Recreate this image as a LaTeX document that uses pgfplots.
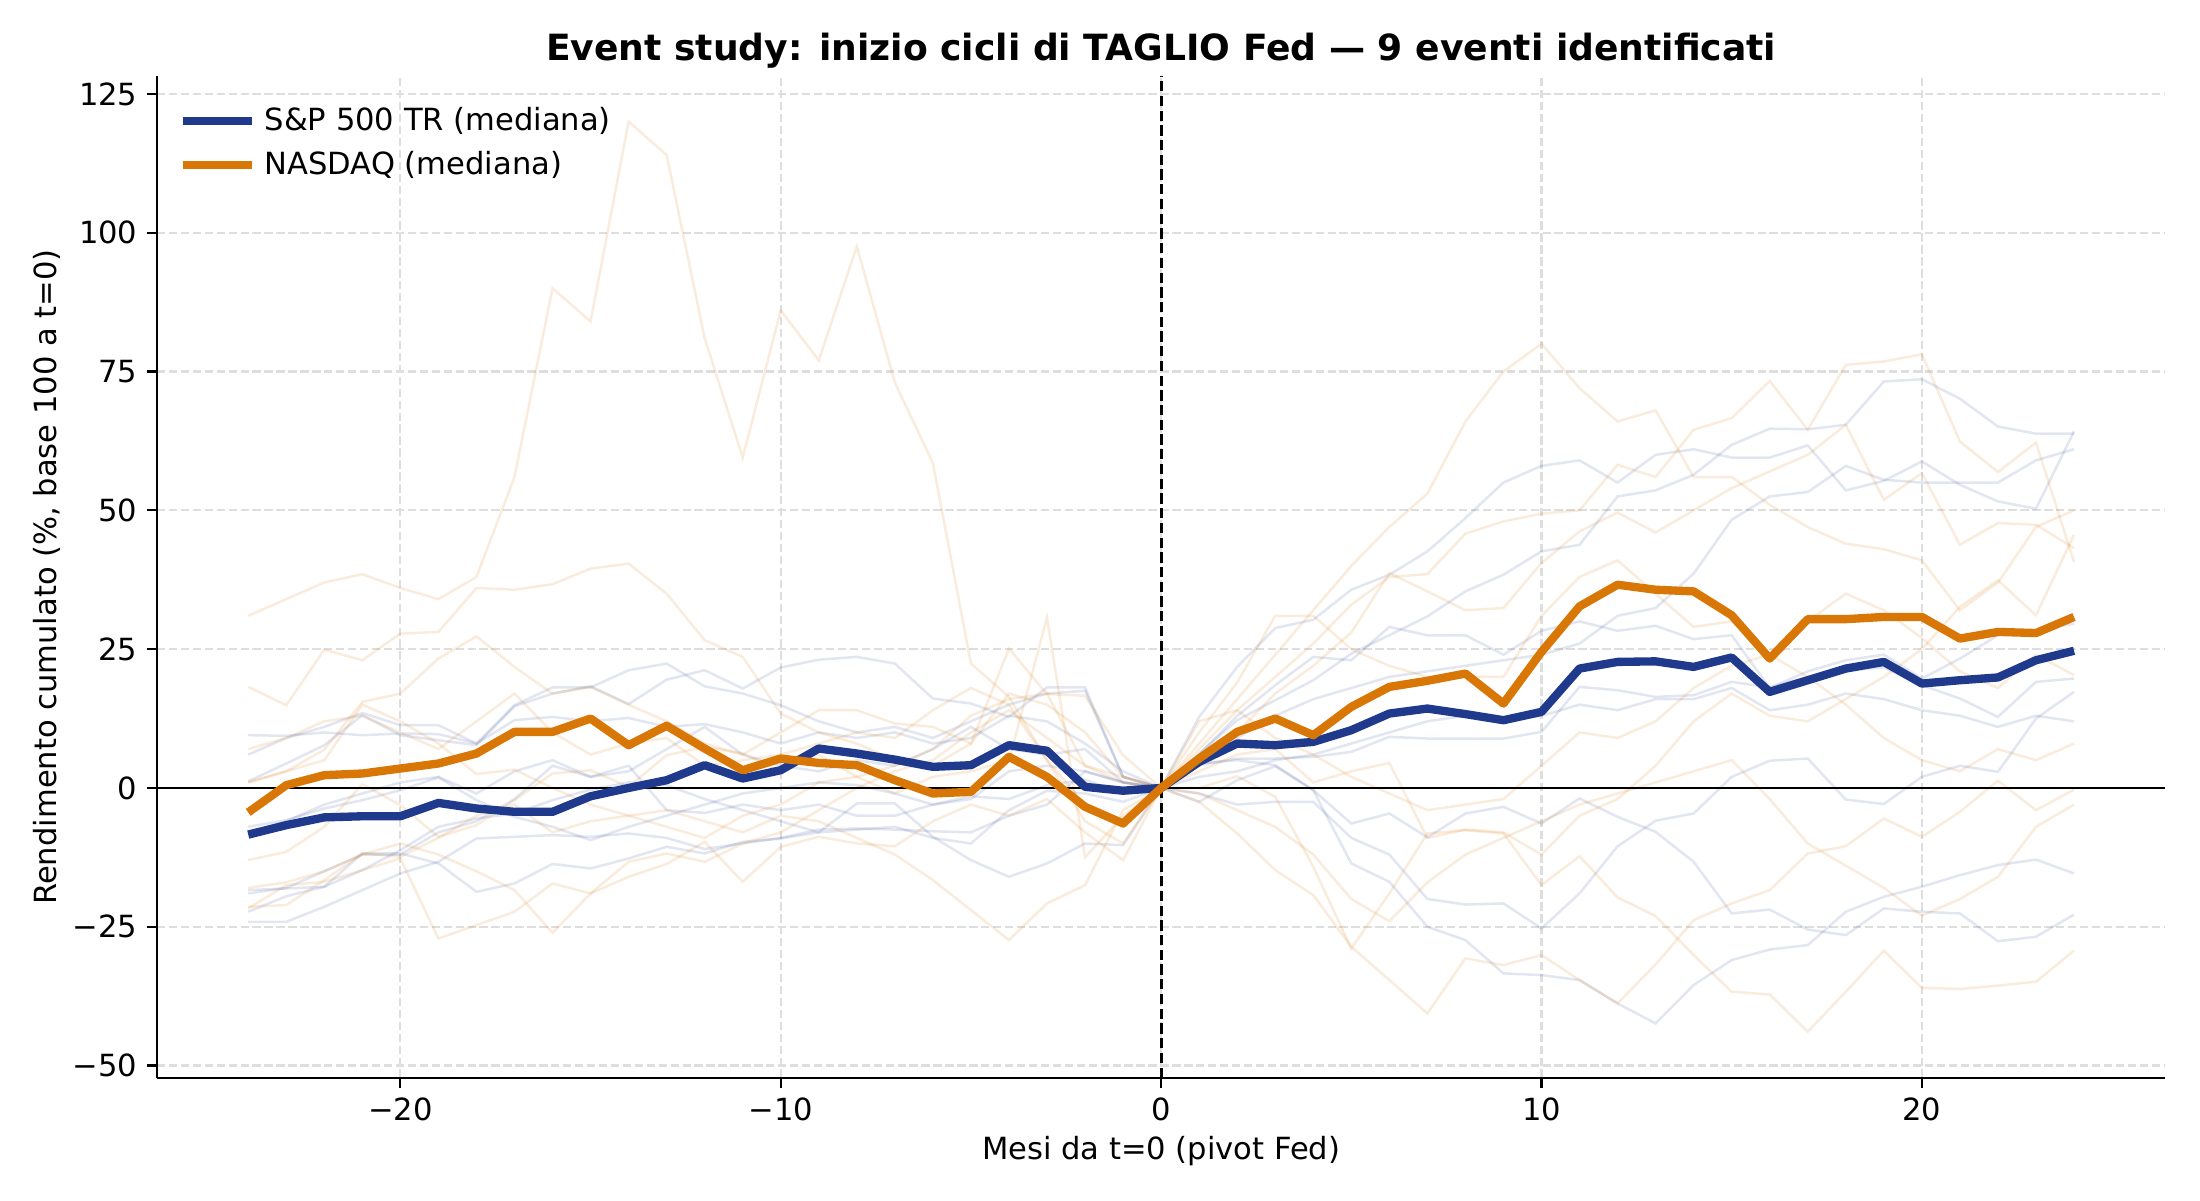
\documentclass[border=0pt]{standalone}
\usepackage{fontspec}
\setmainfont{DejaVu Sans}
\usepackage{pgfplots}
\pgfplotsset{compat=1.18}
\definecolor{spblue}{RGB}{31,58,140}
\definecolor{nqorange}{RGB}{217,119,6}
\definecolor{gridgray}{RGB}{222,222,222}
\begin{document}
\begin{tikzpicture}
\path[use as bounding box] (-56.5pt,-44pt) rectangle (735.5pt,388pt);
\begin{axis}[
  at={(0,0)}, anchor=south west,
  scale only axis, width=723pt, height=360.6pt,
  xmin=-26.4, xmax=26.4, ymin=-52.2, ymax=128.2,
  axis x line*=bottom, axis y line*=left,
  axis line style={line width=0.8pt, -},
  xtick={-20,-10,0,10,20}, xticklabels={−20,−10,0,10,20},
  ytick={-50,-25,0,25,50,75,100,125}, yticklabels={−50,−25,0,25,50,75,100,125},
  tick align=outside, major tick length=3.5pt, tick style={line width=0.8pt, black},
  grid=major, grid style={gridgray, line width=0.8pt, dash pattern=on 3pt off 1.3pt},
  ticklabel style={font=\fontsize{11}{13}\selectfont},
  title={Event study: inizio cicli di TAGLIO Fed — 9 eventi identificati},
  xlabel={Mesi da t=0 (pivot Fed)},
  ylabel={Rendimento cumulato (\%, base 100 a t=0)},
  every axis x label/.style={at={(axis description cs:0.5,0)}, yshift=-26.5pt, anchor=center, font=\fontsize{11}{13}\selectfont},
  every axis y label/.style={at={(axis description cs:0,0.5)}, xshift=-39.5pt, rotate=90, anchor=center, font=\fontsize{11}{13}\selectfont},
  every axis title/.style={at={(axis description cs:0.5,1)}, yshift=9pt, anchor=center, font=\bfseries\fontsize{13}{15}\selectfont},
  legend style={at={(axis description cs:0.0105,0.972)}, anchor=north west, draw=none, fill=none,
    font=\fontsize{11}{13}\selectfont, row sep=4pt, inner sep=0pt, nodes={inner xsep=3pt, inner ysep=1pt}},
  legend cell align=left,
  legend image code/.code={\draw[#1, line width=3pt] (0pt,0pt) -- (25pt,0pt);},
  fB/.style={spblue, opacity=0.13, line width=0.9pt, forget plot},
  fN/.style={nqorange, opacity=0.14, line width=0.9pt, forget plot},
]
% faint S&P 500 lines
\addplot[fB] coordinates {(-24,9.5)(-23,9.4)(-22,10)(-21,9.5)(-20,9.8)(-19,9.7)(-18,8)(-17,12.2)(-16,12.8)(-15,12)(-14,12.6)(-13,11)(-12,11.5)(-11,10)(-10,8)(-9,10)(-8,9)(-7,10)(-6,8)(-5,9)(-4,13)(-3,12)(-2,8)(-1,3)(0,0)(1,12.8)(2,21.8)(3,28.8)(4,30.3)(5,35.7)(6,38.4)(7,42.6)(8,48.6)(9,55)(10,58)(11,59)(12,55)(13,60)(14,61)(15,59.5)(16,59.5)(17,61.7)(18,53.6)(19,55.3)(20,58.8)(21,54.6)(22,51.6)(23,50.3)(24,64.2)};
\addplot[fB] coordinates {(-24,6)(-23,9)(-22,11)(-21,13.5)(-20,11.3)(-19,11.3)(-18,8)(-17,14.9)(-16,18.1)(-15,18.1)(-14,21.2)(-13,22.4)(-12,18.3)(-11,17)(-10,14.9)(-9,12)(-8,10)(-7,11)(-6,9)(-5,12)(-4,15)(-3,17)(-2,17.5)(-1,2)(0,0)(1,6.2)(2,12.2)(3,15.8)(4,19.4)(5,24.2)(6,27.5)(7,30.9)(8,35.4)(9,38.4)(10,42.6)(11,43.8)(12,52.5)(13,53.6)(14,56.4)(15,61.8)(16,64.7)(17,64.6)(18,65.4)(19,73.2)(20,73.6)(21,70.1)(22,65.1)(23,63.8)(24,63.8)};
\addplot[fB] coordinates {(-24,1.2)(-23,4.4)(-22,7.7)(-21,13.1)(-20,9.5)(-19,8.6)(-18,7.7)(-17,14.7)(-16,17)(-15,18.3)(-14,15.1)(-13,19.5)(-12,21.2)(-11,17.9)(-10,21.7)(-9,23.1)(-8,23.6)(-7,22.4)(-6,16.1)(-5,15.2)(-4,12.8)(-3,18.1)(-2,18.1)(-1,2)(0,0)(1,6)(2,13)(3,18.5)(4,23.6)(5,23)(6,29)(7,27.5)(8,27.5)(9,24)(10,28.3)(11,30)(12,28.3)(13,29.2)(14,26.8)(15,27.5)(16,18)(17,21)(18,23)(19,24)(20,19.7)(21,23.3)(22,27.5)(23,28.5)(24,29.6)};
\addplot[fB] coordinates {(-24,-7)(-23,-5.8)(-22,-3.7)(-21,-2.2)(-20,-0.4)(-19,1.9)(-18,-2.2)(-17,-5.2)(-16,-7)(-15,-9.4)(-14,-7)(-13,-5)(-12,-3)(-11,-1)(-10,0)(-9,1)(-8,0.5)(-7,-1)(-6,-3)(-5,-1.5)(-4,-2)(-3,0.5)(-2,1.5)(-1,-1)(0,0)(1,4.1)(2,5.3)(3,5.3)(4,5.6)(5,6.5)(6,9.2)(7,8.9)(8,8.9)(9,8.9)(10,10.1)(11,18.2)(12,17.6)(13,16.4)(14,16.7)(15,19.1)(16,18.1)(17,20)(18,21.2)(19,21.7)(20,18.5)(21,16.1)(22,12.8)(23,19.1)(24,19.7)};
\addplot[fB] coordinates {(-24,-18.4)(-23,-18.1)(-22,-17.8)(-21,-11.8)(-20,-11.8)(-19,-13.6)(-18,-18.7)(-17,-17.2)(-16,-13.7)(-15,-14.5)(-14,-12.7)(-13,-10.6)(-12,-11.8)(-11,-9.7)(-10,-9.1)(-9,-8)(-8,-7.5)(-7,-7)(-6,-9)(-5,-10)(-4,-4)(-3,-0.5)(-2,-1)(-1,-2.5)(0,0)(1,-2.5)(2,1.4)(3,3.9)(4,-0.4)(5,-6.4)(6,-4.6)(7,-8.9)(8,-4.6)(9,-3.4)(10,-6.4)(11,-1.9)(12,-5.2)(13,-7.9)(14,-13.3)(15,-22.6)(16,-21.9)(17,-25.5)(18,-26.5)(19,-21.7)(20,-22.3)(21,-22.6)(22,-27.6)(23,-26.8)(24,-22.8)};
\addplot[fB] coordinates {(-24,-22.3)(-23,-19.5)(-22,-17.8)(-21,-14.8)(-20,-11.2)(-19,-7)(-18,-5.5)(-17,-4.6)(-16,-2.2)(-15,-0.3)(-14,1)(-13,0.5)(-12,-2)(-11,-4)(-10,-6)(-9,-8)(-8,-2.8)(-7,-2.8)(-6,-8.8)(-5,-13)(-4,-16)(-3,-13.6)(-2,-10)(-1,-10.3)(0,0)(1,4.4)(2,5)(3,4.1)(4,-0.4)(5,-13.6)(6,-16.9)(7,-25)(8,-27.4)(9,-33.4)(10,-33.7)(11,-34.6)(12,-38.8)(13,-42.4)(14,-35.5)(15,-31)(16,-29.1)(17,-28.3)(18,-22.3)(19,-19.6)(20,-17.8)(21,-15.7)(22,-13.9)(23,-12.9)(24,-15.4)};
\addplot[fB] coordinates {(-24,-24.1)(-23,-24.1)(-22,-21.4)(-21,-18.4)(-20,-15.4)(-19,-13.3)(-18,-9.1)(-17,-8.8)(-16,-8.5)(-15,-8.8)(-14,-8.2)(-13,-9)(-12,-11)(-11,-10)(-10,-9)(-9,-7.5)(-8,-7.3)(-7,-7.5)(-6,-7.8)(-5,-8)(-4,-5)(-3,-3)(-2,3)(-1,1)(0,0)(1,-1)(2,-3)(3,-2.5)(4,-2.5)(5,-9)(6,-12)(7,-20)(8,-21)(9,-20.8)(10,-25.3)(11,-19)(12,-10.5)(13,-5.9)(14,-4.6)(15,2)(16,4.9)(17,5.3)(18,-2.1)(19,-2.9)(20,2)(21,4)(22,2.9)(23,12.5)(24,17.3)};
\addplot[fB] coordinates {(-24,-8)(-23,-6)(-22,-3)(-21,-1)(-20,1)(-19,2)(-18,-1)(-17,3)(-16,5)(-15,2)(-14,4)(-13,-4)(-12,-4.5)(-11,-3)(-10,-4)(-9,-3)(-8,-5)(-7,-5)(-6,-3)(-5,-2)(-4,3)(-3,4)(-2,3)(-1,1)(0,0)(1,2)(2,3)(3,5)(4,6)(5,8)(6,10)(7,12)(8,13)(9,12)(10,13)(11,15)(12,14)(13,16)(14,16)(15,18)(16,14)(17,15)(18,17)(19,16)(20,14)(21,13)(22,11)(23,13)(24,12)};
\addplot[fB] coordinates {(-24,-19)(-23,-18)(-22,-15)(-21,-12)(-20,-12)(-19,-8)(-18,-6)(-17,-2)(-16,4)(-15,2)(-14,3)(-13,7)(-12,11)(-11,6)(-10,4)(-9,3)(-8,5)(-7,4)(-6,7)(-5,11)(-4,7)(-3,6)(-2,7)(-1,1)(0,0)(1,4)(2,9)(3,13)(4,16)(5,18)(6,20)(7,21)(8,22)(9,23)(10,24)(11,26)(12,31)(13,32.4)(14,38.6)(15,48.3)(16,52.5)(17,53.3)(18,58)(19,55.5)(20,55)(21,55)(22,55)(23,59)(24,61)};
% faint NASDAQ lines
\addplot[fN] coordinates {(-24,31)(-23,34)(-22,37)(-21,38.5)(-20,36)(-19,34)(-18,38)(-17,56)(-16,90)(-15,84)(-14,120)(-13,114)(-12,81)(-11,59.5)(-10,86)(-9,77)(-8,97.5)(-7,73)(-6,58.5)(-5,22.4)(-4,16.4)(-3,5)(-2,-6)(-1,-10)(0,0)(1,-2.5)(2,-8.2)(3,-14.8)(4,-19.3)(5,-28.6)(6,-34.6)(7,-40.6)(8,-30.7)(9,-31.9)(10,-30.1)(11,-34.6)(12,-38.8)(13,-31.8)(14,-23.8)(15,-20.8)(16,-18.4)(17,-11.8)(18,-10.5)(19,-5.5)(20,-8.8)(21,-4.3)(22,1.3)(23,-4)(24,-0.3)};
\addplot[fN] coordinates {(-24,18.2)(-23,14.9)(-22,24.9)(-21,23)(-20,27.8)(-19,28.1)(-18,36)(-17,35.7)(-16,36.7)(-15,39.5)(-14,40.4)(-13,35)(-12,26.6)(-11,23.6)(-10,13.4)(-9,10)(-8,8)(-7,5)(-6,4)(-5,8)(-4,17)(-3,15)(-2,10)(-1,2)(0,0)(1,0)(2,2.1)(3,-1.6)(4,-14.2)(5,-28.9)(6,-19)(7,-8.2)(8,-7.6)(9,-8.2)(10,-17.5)(11,-12.3)(12,-19.7)(13,-23.1)(14,-30.1)(15,-36.7)(16,-37.2)(17,-43.9)(18,-36.7)(19,-29.3)(20,-36)(21,-36.2)(22,-35.6)(23,-34.9)(24,-29.3)};
\addplot[fN] coordinates {(-24,1)(-23,3)(-22,6.9)(-21,15.5)(-20,17)(-19,23.3)(-18,27.3)(-17,21.8)(-16,17)(-15,18.2)(-14,15)(-13,12)(-12,8)(-11,6)(-10,10)(-9,14)(-8,14)(-7,11.6)(-6,11)(-5,8)(-4,25.1)(-3,16.9)(-2,16.6)(-1,5.9)(0,0)(1,8)(2,16)(3,24)(4,32)(5,40)(6,47)(7,53)(8,66)(9,75)(10,80)(11,72)(12,66)(13,68)(14,56)(15,56)(16,51)(17,47)(18,44)(19,43)(20,41)(21,32)(22,37)(23,47)(24,50)};
\addplot[fN] coordinates {(-24,-13)(-23,-11.5)(-22,-7)(-21,0.7)(-20,-3.1)(-19,-8.8)(-18,-6.7)(-17,-2.2)(-16,2.6)(-15,3.2)(-14,0.2)(-13,5.9)(-12,7.4)(-11,6.2)(-10,3)(-9,6)(-8,2)(-7,-1)(-6,2)(-5,3)(-4,5)(-3,30.7)(-2,-12.5)(-1,-5)(0,0)(1,7)(2,14)(3,20)(4,26)(5,33)(6,38)(7,38.5)(8,45.8)(9,48)(10,49.4)(11,50)(12,58.2)(13,56)(14,64.5)(15,66.6)(16,73.3)(17,64.5)(18,76.2)(19,76.8)(20,78.1)(21,62.4)(22,56.9)(23,62.2)(24,40.7)};
\addplot[fN] coordinates {(-24,-21.4)(-23,-21.1)(-22,-16.6)(-21,-11.8)(-20,-12.4)(-19,-9)(-18,-5)(-17,-3)(-16,-8)(-15,-6)(-14,-5)(-13,-4)(-12,-6)(-11,-8)(-10,-5)(-9,-6)(-8,-9)(-7,-12)(-6,-16.6)(-5,-22)(-4,-27.4)(-3,-20.8)(-2,-17.5)(-1,-4)(0,0)(1,4)(2,10)(3,17)(4,22)(5,28)(6,38.7)(7,35.4)(8,32)(9,32.4)(10,40.5)(11,46.2)(12,49.6)(13,46)(14,50)(15,54)(16,57)(17,60)(18,65.4)(19,51.9)(20,56.7)(21,43.8)(22,47.7)(23,47.4)(24,43.2)};
\addplot[fN] coordinates {(-24,-21.7)(-23,-17.5)(-22,-16.9)(-21,-14.8)(-20,-12.7)(-19,-27.1)(-18,-24.7)(-17,-22.3)(-16,-17.2)(-15,-19)(-14,-16)(-13,-13.7)(-12,-9.7)(-11,-16.9)(-10,-10.6)(-9,-8.8)(-8,-10)(-7,-10.5)(-6,-6)(-5,-3)(-4,-5)(-3,-2)(-2,-8)(-1,-13)(0,0)(1,10)(2,19)(3,31)(4,31)(5,25)(6,22)(7,20)(8,20)(9,20)(10,31)(11,38)(12,41)(13,35)(14,29)(15,30)(16,24)(17,30)(18,35)(19,32)(20,27)(21,21)(22,18)(23,24)(24,20.3)};
\addplot[fN] coordinates {(-24,-18)(-23,-17)(-22,-15)(-21,-12)(-20,-10)(-19,-12)(-18,-15)(-17,-18.4)(-16,-26.1)(-15,-19)(-14,-13.3)(-13,-11.8)(-12,-13.3)(-11,-10)(-10,-8)(-9,-4)(-8,0)(-7,3)(-6,5)(-5,10)(-4,14)(-3,9)(-2,4)(-1,2)(0,0)(1,3)(2,6)(3,7)(4,1)(5,3)(6,4.5)(7,-9)(8,-7.5)(9,-8)(10,-12)(11,-5)(12,-2)(13,4)(14,12)(15,17)(16,13)(17,12)(18,16)(19,20)(20,25)(21,32.6)(22,37.4)(23,31.1)(24,45.6)};
\addplot[fN] coordinates {(-24,1)(-23,3)(-22,5)(-21,15)(-20,12)(-19,8)(-18,2.5)(-17,3.3)(-16,0)(-15,-3)(-14,-5)(-13,-7)(-12,-9)(-11,-5)(-10,-3)(-9,1)(-8,2)(-7,4)(-6,7)(-5,13)(-4,16)(-3,17)(-2,4)(-1,1)(0,0)(1,-1)(2,-4)(3,-7)(4,-12)(5,-20)(6,-24)(7,-17)(8,-12)(9,-9)(10,-6)(11,-3)(12,-1)(13,1)(14,3)(15,5)(16,-2)(17,-10)(18,-14)(19,-18)(20,-23)(21,-20)(22,-16)(23,-7)(24,-3)};
\addplot[fN] coordinates {(-24,7)(-23,9)(-22,12)(-21,13)(-20,10)(-19,7)(-18,12)(-17,17)(-16,10)(-15,6)(-14,8)(-13,9)(-12,4)(-11,5)(-10,6)(-9,8)(-8,10)(-7,9)(-6,14)(-5,18)(-4,15)(-3,5)(-2,-3)(-1,-7)(0,0)(1,12)(2,14)(3,9)(4,6)(5,2)(6,-1)(7,-4)(8,-3)(9,-2)(10,4)(11,10)(12,9)(13,12)(14,18)(15,22)(16,24)(17,20)(18,15)(19,9)(20,5)(21,3)(22,7)(23,5)(24,8)};
% reference lines
\addplot[black, line width=0.8pt, forget plot] coordinates {(-26.4,0) (26.4,0)};
\addplot[black, line width=1pt, dash pattern=on 3.7pt off 1.6pt, forget plot] coordinates {(0,-52.2) (0,128.2)};
% medians
\addplot[spblue, line width=3pt, line join=round] coordinates {(-24,-8.4)(-23,-6.7)(-22,-5.3)(-21,-5.1)(-20,-5.1)(-19,-2.7)(-18,-3.7)(-17,-4.3)(-16,-4.3)(-15,-1.5)(-14,0)(-13,1.4)(-12,4.1)(-11,1.7)(-10,3.2)(-9,7.1)(-8,6.2)(-7,5.1)(-6,3.8)(-5,4.1)(-4,7.7)(-3,6.7)(-2,0.2)(-1,-0.5)(0,0)(1,4.7)(2,8.0)(3,7.7)(4,8.3)(5,10.4)(6,13.4)(7,14.3)(8,13.3)(9,12.2)(10,13.7)(11,21.5)(12,22.7)(13,22.8)(14,21.8)(15,23.5)(16,17.3)(17,19.4)(18,21.5)(19,22.7)(20,18.8)(21,19.4)(22,19.9)(23,23.0)(24,24.7)};
\addlegendentry{S\&P 500 TR (mediana)}
\addplot[nqorange, line width=3pt, line join=round] coordinates {(-24,-4.4)(-23,0.5)(-22,2.3)(-21,2.6)(-20,3.5)(-19,4.4)(-18,6.2)(-17,10.1)(-16,10.1)(-15,12.5)(-14,7.7)(-13,11.2)(-12,7.1)(-11,3.2)(-10,5.3)(-9,4.5)(-8,4.1)(-7,1.4)(-6,-1.0)(-5,-0.7)(-4,5.6)(-3,2.0)(-2,-3.4)(-1,-6.4)(0,0)(1,5.3)(2,10.1)(3,12.5)(4,9.5)(5,14.6)(6,18.2)(7,19.3)(8,20.6)(9,15.2)(10,24.5)(11,32.7)(12,36.6)(13,35.7)(14,35.4)(15,31.1)(16,23.3)(17,30.4)(18,30.4)(19,30.8)(20,30.8)(21,26.9)(22,28.1)(23,27.9)(24,30.8)};
\addlegendentry{NASDAQ (mediana)}
\end{axis}
\end{tikzpicture}
\end{document}
